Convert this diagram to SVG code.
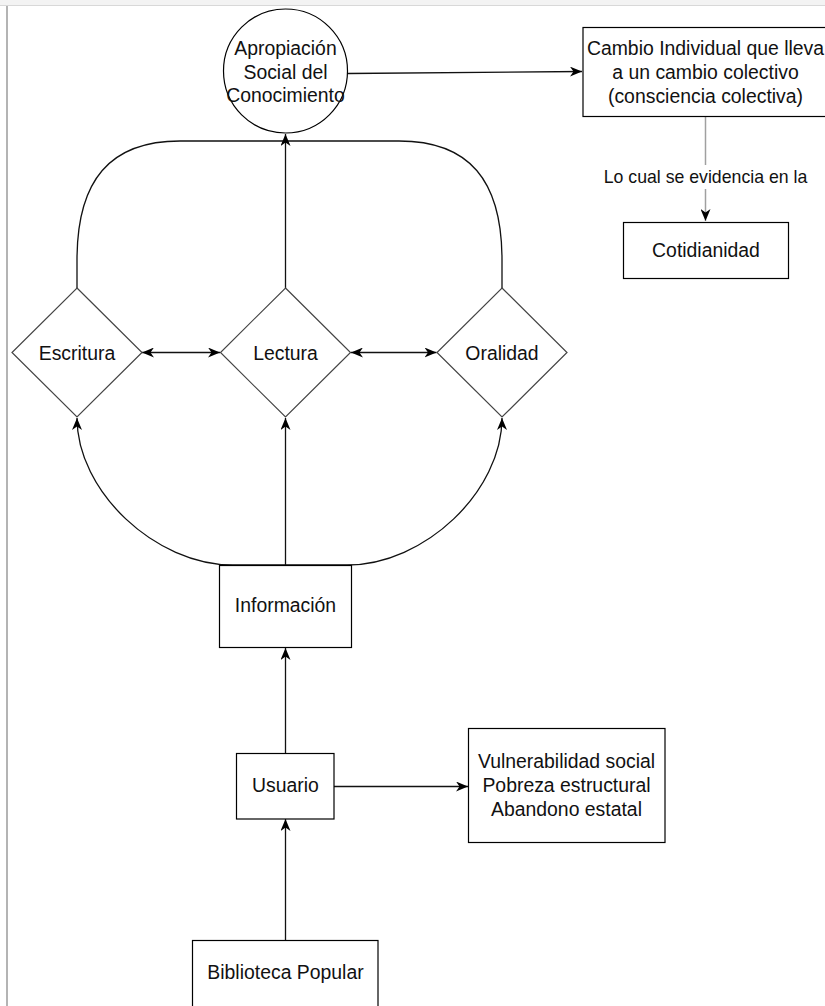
<svg xmlns="http://www.w3.org/2000/svg" width="825" height="1006" viewBox="0 0 825 1006">
<style>
.n{fill:#fff;stroke:#000;stroke-width:1.2}
.d{fill:#fff;stroke:#444;stroke-width:1.2}
.t{font-family:"Liberation Sans",Arial,sans-serif;font-size:19.4px;fill:#111;text-anchor:middle}
.s{font-family:"Liberation Sans",Arial,sans-serif;font-size:17.7px;fill:#111;text-anchor:middle}
.e{fill:none;stroke:#111;stroke-width:1.3}
.g{fill:none;stroke:#a0a0a0;stroke-width:1.5}
</style>
<defs>
<marker id="arr" viewBox="0 0 12 10" refX="12" refY="5" markerWidth="12" markerHeight="10" orient="auto-start-reverse" markerUnits="userSpaceOnUse">
<path d="M0,0 L12,5 L0,10 L3.5,5 Z" fill="#000"/>
</marker>
</defs>
<rect x="0" y="0" width="825" height="1006" fill="#fff"/>
<rect x="0" y="0" width="825" height="5" fill="#f3f3f3"/>
<line x1="0" y1="5.5" x2="825" y2="5.5" stroke="#d8d8d8" stroke-width="1"/>
<line x1="7" y1="6" x2="7" y2="1006" stroke="#b4b4b4" stroke-width="2"/>

<g id="connectors">
<line class="e" x1="348" y1="73.5" x2="582" y2="71.5" marker-end="url(#arr)"/>
<line class="g" x1="705.5" y1="117" x2="705.5" y2="221" marker-end="url(#arr)"/>
<rect x="603" y="165" width="205" height="24" fill="#fff"/>
<text class="s" x="705.5" y="183">Lo cual se evidencia en la</text>
<path class="e" d="M77 288 L77 260 C77 180 110 141 180 141 L285.5 141"/>
<path class="e" d="M502 288 L502 260 C502 180 469 141 399 141 L285.5 141"/>
<line class="e" x1="285.5" y1="288" x2="285.5" y2="134" marker-end="url(#arr)"/>
<line class="e" x1="142" y1="352.5" x2="220" y2="352.5" marker-start="url(#arr)" marker-end="url(#arr)"/>
<line class="e" x1="351" y1="352.5" x2="436.5" y2="352.5" marker-start="url(#arr)" marker-end="url(#arr)"/>
<path class="e" d="M285.5 565 L233 565 C155 565 77 491 77 418" marker-end="url(#arr)"/>
<path class="e" d="M285.5 565 L347 565 C425 565 502 491 502 418" marker-end="url(#arr)"/>
<line class="e" x1="285.5" y1="565" x2="285.5" y2="418" marker-end="url(#arr)"/>
<line class="e" x1="285.5" y1="753" x2="285.5" y2="648" marker-end="url(#arr)"/>
<line class="e" x1="334" y1="786.5" x2="468" y2="786.5" marker-end="url(#arr)"/>
<line class="e" x1="285.5" y1="940" x2="285.5" y2="819" marker-end="url(#arr)"/>
</g>

<g id="apropiacion">
<circle class="n" cx="285.5" cy="71" r="62"/>
<text class="t" x="285.5" y="55">Apropiación</text>
<text class="t" x="285.5" y="78.5">Social del</text>
<text class="t" x="285.5" y="102">Conocimiento</text>
</g>

<g id="cambio">
<rect class="n" x="583" y="27.5" width="245" height="89"/>
<text class="t" x="705.5" y="55">Cambio Individual que lleva</text>
<text class="t" x="705.5" y="79">a un cambio colectivo</text>
<text class="t" x="705.5" y="103">(consciencia colectiva)</text>
</g>

<g id="cotidianidad">
<rect class="n" x="623.5" y="222.5" width="165" height="56"/>
<text class="t" x="706" y="257">Cotidianidad</text>
</g>

<g id="escritura">
<polygon class="d" points="77,288 142,352.5 77,417 12,352.5"/>
<text class="t" x="77" y="359.5">Escritura</text>
</g>

<g id="lectura">
<polygon class="d" points="285.5,288 350.5,352.5 285.5,417 220.5,352.5"/>
<text class="t" x="285.5" y="359.5">Lectura</text>
</g>

<g id="oralidad">
<polygon class="d" points="502,288 567,352.5 502,417 437,352.5"/>
<text class="t" x="502" y="359.5">Oralidad</text>
</g>

<g id="informacion">
<rect class="n" x="219.5" y="565.5" width="132" height="82"/>
<text class="t" x="285.5" y="612">Información</text>
</g>

<g id="usuario">
<rect class="n" x="236.5" y="753.5" width="97.5" height="65.5"/>
<text class="t" x="285.5" y="792">Usuario</text>
</g>

<g id="vulnerabilidad">
<rect class="n" x="468.5" y="728.5" width="196.5" height="114"/>
<text class="t" x="566.5" y="768">Vulnerabilidad social</text>
<text class="t" x="566.5" y="792">Pobreza estructural</text>
<text class="t" x="566.5" y="816">Abandono estatal</text>
</g>

<g id="biblioteca">
<rect class="n" x="192.5" y="940.5" width="185.5" height="80"/>
<text class="t" x="285.5" y="979">Biblioteca Popular</text>
</g>
</svg>
